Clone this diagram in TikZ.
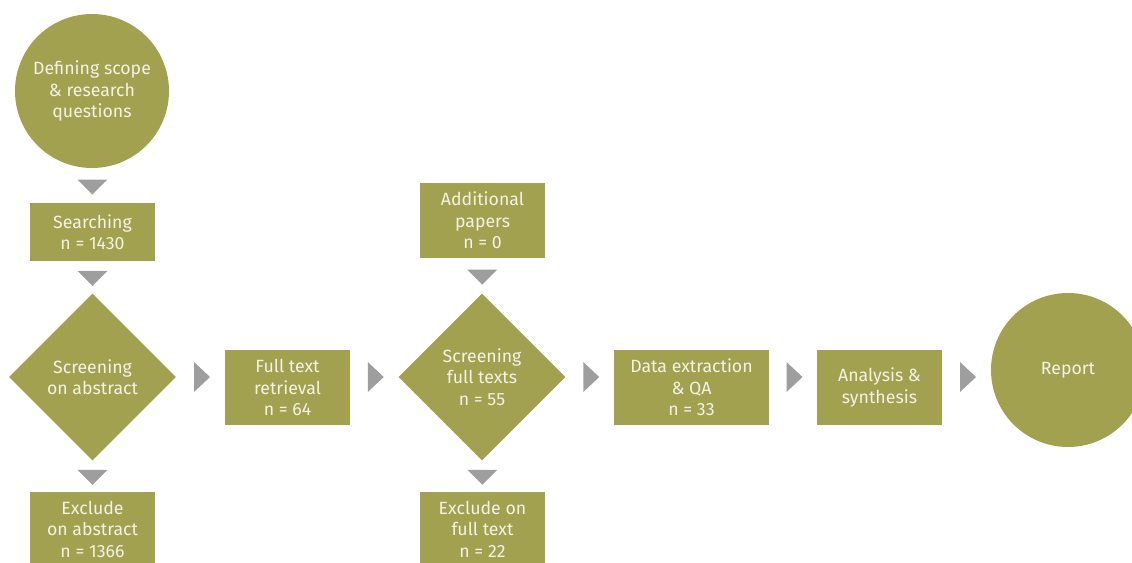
\documentclass[tikz,border=0pt]{standalone}
\usepackage{fontspec}
\setmainfont{Fira Sans}
\setsansfont{Fira Sans}
\usepackage{tikz}
\usetikzlibrary{shapes,shapes.geometric,positioning,calc}
\definecolor{olivefill}{RGB}{162,161,80}
\definecolor{markgray}{RGB}{158,158,158}
\definecolor{lighttext}{RGB}{244,242,228}
\tikzset{
    every picture/.style={font=\sffamily},
    every node/.style={font=\sffamily}
}

\begin{document}
\begin{tikzpicture}[
    % Stili per i blocchi
    block/.style={fill=olivefill, draw=none, text=lighttext, align=center, inner sep=0pt,
        font=\fontsize{12.6}{15.3}\selectfont},
    stage/.style={block, rectangle, minimum width=3.125cm, minimum height=1.875cm},
    shortstage/.style={stage, minimum height=1.425cm},
    widestage/.style={stage, minimum width=3.875cm},
    startend/.style={block, circle, minimum size=3.85cm},
    decision/.style={block, diamond, aspect=1, minimum width=4.175cm, minimum height=4.175cm},
    % Stili per i segni di passaggio
    downmark/.style={isosceles triangle, isosceles triangle stretches, fill=markgray, inner sep=0pt,
        shape border rotate=-90, minimum width=0.75cm, minimum height=0.375cm},
    rightmark/.style={isosceles triangle, isosceles triangle stretches, fill=markgray, inner sep=0pt,
        shape border rotate=0, minimum width=0.75cm, minimum height=0.4cm}
]
\useasboundingbox (0,0) rectangle (28.3,14.05);

% === COLONNA SINISTRA ===
\node[startend] (scope) at (2.3,11.775) {Defining scope\\ \& research\\ questions};
\node[shortstage] (search) at (2.3125,8.25) {Searching\\ n = 1430};
\node[decision] (screenabs) at (2.3125,4.625) {Screening\\ on abstract};
\node[stage] (exclabs) at (2.3125,0.82) {Exclude\\ on abstract\\ n = 1366};

% === TESTI COMPLETI ===
\node[stage] (fulltext) at (7.1875,4.3625) {Full text\\ retrieval\\ n = 64};
\node[stage] (additional) at (12.0625,8.5375) {Additional\\ papers\\ n = 0};
\node[decision] (screenfull) at (12.05,4.625) {Screening\\ full texts\\ n = 55};
\node[stage] (exclfull) at (12.0625,0.82) {Exclude on\\ full text\\ n = 22};

% === ESTRAZIONE E REPORT ===
\node[widestage] (extract) at (17.2875,4.3625) {Data extraction\\ \& QA\\ n = 33};
\node[stage] (analysis) at (21.9875,4.3625) {Analysis \&\\ synthesis};
\node[startend] (report) at (26.7,4.8) {Report};

% === PASSAGGI VERTICALI ===
\path (scope) -- node[downmark] {} (search);
\path (search) -- node[downmark] {} (screenabs);
\path (screenabs) -- node[downmark] {} (exclabs);
\path (additional) -- node[downmark] {} (screenfull);
\path (screenfull) -- node[downmark] {} (exclfull);

% === PASSAGGI ORIZZONTALI ===
\path (screenabs.east) -- node[rightmark] {} (screenabs.east -| fulltext.west);
\path (fulltext.east |- screenabs) -- node[rightmark] {} (screenfull.west);
\path (screenfull.east) -- node[rightmark] {} (screenfull.east -| extract.west);
\path (extract.east |- screenfull) -- node[rightmark] {} (analysis.west |- screenfull);
\path (analysis.east |- screenfull) -- node[rightmark] {} (report.west |- screenfull);

\end{tikzpicture}
\end{document}
